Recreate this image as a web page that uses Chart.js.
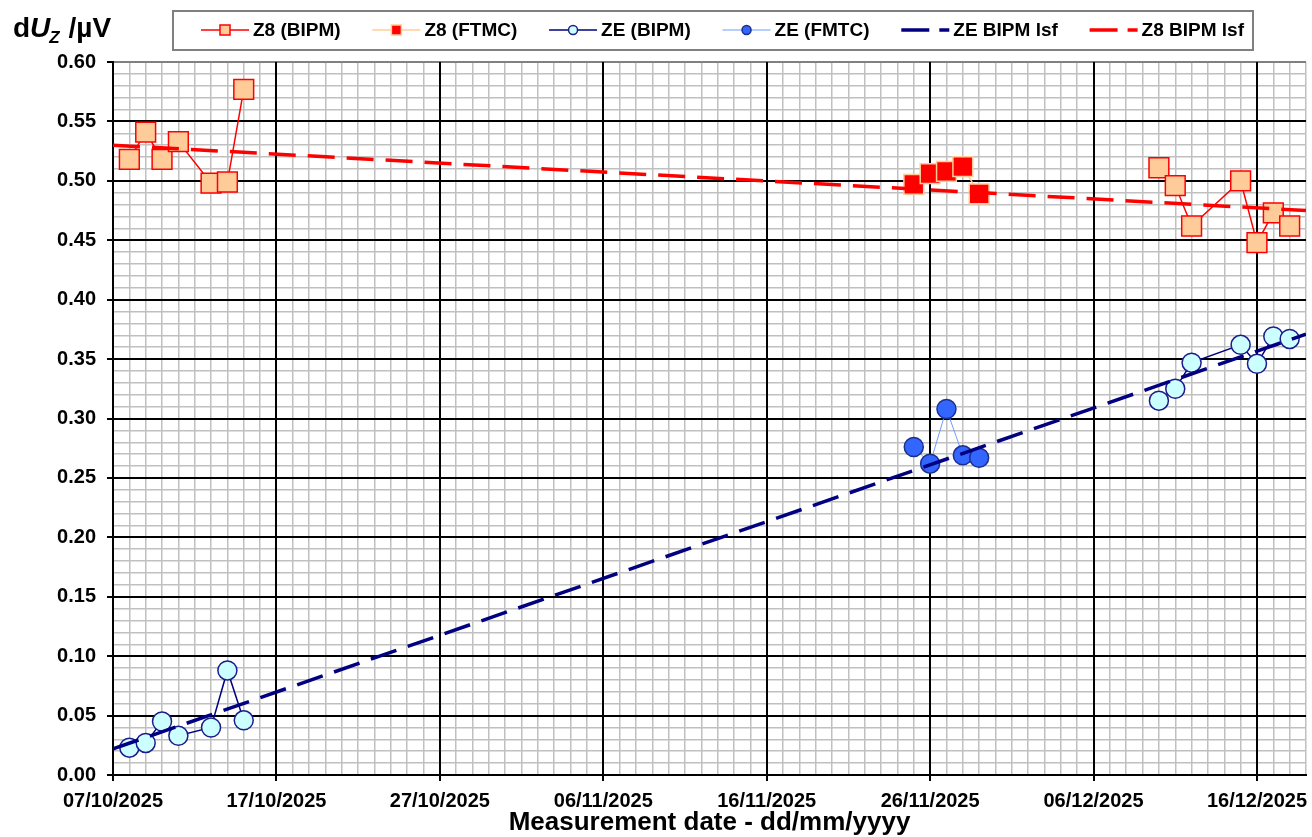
<!DOCTYPE html>
<html>
<head>
<meta charset="utf-8">
<title>dUz vs measurement date</title>
<script src="https://cdn.jsdelivr.net/npm/chart.js@4.4.1/dist/chart.umd.min.js"></script>
<style>
  html, body { margin: 0; padding: 0; background: #fff; }
  #wrap { width: 1312px; height: 837px; }
</style>
</head>
<body>
<div id="wrap"><canvas id="uz_graph" width="1312" height="837"></canvas></div>
<script>
// ------------------------------ data ------------------->>
const axisStart = '2025-10-07';
const axisEnd = '2025-12-19';

// BIPM measurements, same days for both standards
const bipmDates = ['2025-10-08', '2025-10-09', '2025-10-10', '2025-10-11', '2025-10-13', '2025-10-14', '2025-10-15',
                   '2025-12-10', '2025-12-11', '2025-12-12', '2025-12-15', '2025-12-16', '2025-12-17', '2025-12-18'];
const z8Bipm = [0.518, 0.541, 0.518, 0.533, 0.498, 0.499, 0.577,
                0.511, 0.496, 0.462, 0.500, 0.448, 0.473, 0.462];
const zeBipm = [0.023, 0.027, 0.045, 0.033, 0.040, 0.088, 0.046,
                0.315, 0.325, 0.347, 0.362, 0.346, 0.369, 0.367];

// FTMC measurements
const ftmcDates = ['2025-11-25', '2025-11-26', '2025-11-27', '2025-11-28', '2025-11-29'];
const z8Ftmc = [0.497, 0.506, 0.508, 0.512, 0.489];
const zeFtmc = [0.276, 0.262, 0.308, 0.269, 0.267];

// least squares fits on BIPM data
const lsfDates = ['2025-10-07', '2025-12-19'];
const zeLsf = [0.022, 0.371];
const z8Lsf = [0.530, 0.475];

const seriesNames = ['Z8 (BIPM)', 'Z8 (FTMC)', 'ZE (BIPM)', 'ZE (FMTC)', 'ZE BIPM lsf', 'Z8 BIPM lsf'];
const yTitle = ['d', 'U', 'Z', ' /\u00b5V'];
const xTitle = 'Measurement date - dd/mm/yyyy';

const majorDays = 10;     // labelled date gridlines
const maxGapDays = 20;    // no line across campaign breaks

const FONT = '"Liberation Sans", Arial, Helvetica, sans-serif';

// ------------------------------ helpers ------------------------------------>>
function toUTC(s) {
    const p = s.split('-');
    return Date.UTC(+p[0], +p[1] - 1, +p[2]);
}
function dayNum(s) {
    return Math.round((toUTC(s) - toUTC(axisStart)) / 86400000);
}
function dayLabel(n) {
    const d = new Date(toUTC(axisStart) + n * 86400000);
    const dd = String(d.getUTCDate()).padStart(2, '0');
    const mm = String(d.getUTCMonth() + 1).padStart(2, '0');
    return dd + '/' + mm + '/' + d.getUTCFullYear();
}
function pts(dates, vals) {
    return dates.map((d, i) => ({ x: dayNum(d), y: vals[i] }));
}
function gapped(color) {
    return {
        borderColor: c => (c.p1.parsed.x - c.p0.parsed.x > maxGapDays ? 'transparent' : color)
    };
}
function isMajorY(v) {
    return Math.round(v * 100) % 5 === 0;
}
function isMajorX(v) {
    return v % majorDays === 0;
}

// ------------------------------ plugins ------------------------------------>>
const whiteBack = {
    id: 'whiteBack',
    beforeDraw(chart) {
        const ctx = chart.ctx;
        ctx.save();
        ctx.fillStyle = '#fff';
        ctx.fillRect(0, 0, chart.width, chart.height);
        ctx.restore();
    }
};

// black major gridlines on top of the grey minor ones (like Excel does)
const majorGrid = {
    id: 'majorGrid',
    beforeDatasetsDraw(chart) {
        const ctx = chart.ctx;
        const a = chart.chartArea;
        const xs = chart.scales.x, ys = chart.scales.y;
        ctx.save();
        ctx.strokeStyle = '#000';
        ctx.lineWidth = 2;
        ctx.beginPath();
        xs.ticks.forEach(t => {
            if (isMajorX(t.value) && t.value > 0) {
                const px = Math.round(xs.getPixelForValue(t.value));
                ctx.moveTo(px, a.top);
                ctx.lineTo(px, a.bottom);
            }
        });
        ys.ticks.forEach(t => {
            if (isMajorY(t.value) && t.value > 0.001 && t.value < 0.595) {
                const py = Math.round(ys.getPixelForValue(t.value));
                ctx.moveTo(a.left, py);
                ctx.lineTo(a.right, py);
            }
        });
        ctx.stroke();
        ctx.restore();
    }
};

const excelBits = {
    id: 'excelBits',
    afterDraw(chart) {
        const ctx = chart.ctx;
        const area = chart.chartArea;
        ctx.save();

        // y axis title  dU_Z /uV
        ctx.fillStyle = '#000';
        ctx.textBaseline = 'alphabetic';
        let x = 13;
        ctx.font = 'bold 28px ' + FONT;
        ctx.fillText(yTitle[0], x, 37);
        x += ctx.measureText(yTitle[0]).width;
        ctx.font = 'italic bold 28px ' + FONT;
        ctx.fillText(yTitle[1], x, 37);
        x += ctx.measureText(yTitle[1]).width;
        ctx.font = 'italic bold 17px ' + FONT;
        ctx.fillText(yTitle[2], x - 1, 43);
        x += ctx.measureText(yTitle[2]).width;
        ctx.font = 'bold 28px ' + FONT;
        ctx.fillText(yTitle[3], x, 37);

        // x axis title
        ctx.font = 'bold 26px ' + FONT;
        ctx.textAlign = 'center';
        ctx.fillText(xTitle, (area.left + area.right) / 2, 830);
        ctx.textAlign = 'left';

        // legend box
        ctx.strokeStyle = '#808080';
        ctx.lineWidth = 2;
        ctx.strokeRect(173, 11, 1080, 39);

        const sets = chart.data.datasets;
        ctx.font = 'bold 19px ' + FONT;
        const widths = sets.map(ds => ctx.measureText(ds.label).width);
        const symW = 48, textGap = 4;
        const used = widths.reduce((s, w) => s + w, 0) + sets.length * (symW + textGap);
        const gap = (1244 - 201 - used) / (sets.length - 1);
        let lx = 201;
        const yc = 30;
        sets.forEach((ds, i) => {
            ctx.beginPath();
            ctx.setLineDash(ds.borderDash ? [28, 10] : []);
            ctx.strokeStyle = ds.lineColor;
            ctx.lineWidth = ds.borderWidth;
            ctx.moveTo(lx, yc);
            ctx.lineTo(lx + symW, yc);
            ctx.stroke();
            ctx.setLineDash([]);
            if (ds.pointRadius > 0) {
                ctx.fillStyle = ds.pointBackgroundColor;
                ctx.strokeStyle = ds.pointBorderColor;
                ctx.lineWidth = 1.5;
                const cx = lx + symW / 2;
                ctx.beginPath();
                if (ds.pointStyle === 'rect') {
                    ctx.rect(cx - 5, yc - 5, 10, 10);
                } else {
                    ctx.arc(cx, yc, 4.5, 0, Math.PI * 2);
                }
                ctx.fill();
                ctx.stroke();
            }
            ctx.fillStyle = '#000';
            ctx.textBaseline = 'middle';
            ctx.fillText(ds.label, lx + symW + textGap, yc + 1);
            lx += symW + textGap + widths[i] + gap;
        });
        ctx.restore();
    }
};

// ------------------------------ chart -------------------------------------->>
const ctx = document.getElementById('uz_graph').getContext('2d');
const uzChart = new Chart(ctx, {
    type: 'line',
    data: {
        datasets: [{
            label: seriesNames[0],
            data: pts(bipmDates, z8Bipm),
            lineColor: '#ff0000',
            borderColor: '#ff0000',
            borderWidth: 1.5,
            segment: gapped('#ff0000'),
            pointStyle: 'rect',
            pointRadius: 14,
            pointBackgroundColor: '#ffcc99',
            pointBorderColor: '#ff0000',
            pointBorderWidth: 1.5,
            order: 5
        }, {
            label: seriesNames[1],
            data: pts(ftmcDates, z8Ftmc),
            lineColor: '#ffcc99',
            borderColor: '#ffcc99',
            borderWidth: 1.5,
            pointStyle: 'rect',
            pointRadius: 14,
            pointBackgroundColor: '#ff0000',
            pointBorderColor: '#ffcc99',
            pointBorderWidth: 1.5,
            order: 4
        }, {
            label: seriesNames[2],
            data: pts(bipmDates, zeBipm),
            lineColor: '#000080',
            borderColor: '#000080',
            borderWidth: 1.5,
            segment: gapped('#000080'),
            pointStyle: 'circle',
            pointRadius: 9.5,
            pointBackgroundColor: '#ccffff',
            pointBorderColor: '#1c1c8c',
            pointBorderWidth: 1.5,
            order: 3
        }, {
            label: seriesNames[3],
            data: pts(ftmcDates, zeFtmc),
            lineColor: '#6f9cff',
            borderColor: '#6f9cff',
            borderWidth: 1,
            pointStyle: 'circle',
            pointRadius: 9.5,
            pointBackgroundColor: '#3366ff',
            pointBorderColor: '#1c2f8c',
            pointBorderWidth: 1.5,
            order: 2
        }, {
            label: seriesNames[4],
            data: pts(lsfDates, zeLsf),
            lineColor: '#000080',
            borderColor: '#000080',
            borderWidth: 3.5,
            borderDash: [27, 12],
            borderCapStyle: 'butt',
            pointRadius: 0,
            order: 1
        }, {
            label: seriesNames[5],
            data: pts(lsfDates, z8Lsf),
            lineColor: '#ff0000',
            borderColor: '#ff0000',
            borderWidth: 3.5,
            borderDash: [27, 12],
            borderCapStyle: 'butt',
            pointRadius: 0,
            order: 0
        }]
    },
    options: {
        responsive: false,
        animation: false,
        events: [],
        devicePixelRatio: 1,
        layout: { autoPadding: false, padding: { top: 62, right: 6, left: 0, bottom: 0 } },
        plugins: {
            legend: { display: false },
            tooltip: { enabled: false }
        },
        scales: {
            x: {
                type: 'linear',
                min: 0,
                max: dayNum(axisEnd),
                afterFit: s => { s.height = 62; s.paddingLeft = 0; s.paddingRight = 0; },
                afterBuildTicks: s => {
                    s.ticks = [];
                    for (let d = 0; d <= dayNum(axisEnd); d++) s.ticks.push({ value: d });
                },
                ticks: {
                    autoSkip: false,
                    maxRotation: 0,
                    padding: 8,
                    color: '#000',
                    font: { family: FONT, size: 20, weight: 'bold' },
                    callback: v => (isMajorX(v) ? dayLabel(v) : '')
                },
                grid: {
                    color: c => (c.tick && isMajorX(c.tick.value) ? '#000' : '#c0c0c0'),
                    lineWidth: c => (c.tick && isMajorX(c.tick.value) ? 2 : 1.5),
                    tickLength: 6,
                    tickColor: c => (c.tick && isMajorX(c.tick.value) ? '#000' : 'rgba(0,0,0,0)'),
                    tickWidth: 2
                },
                border: { color: '#000', width: 2 }
            },
            y: {
                min: 0,
                max: 0.6,
                afterFit: s => { s.width = 113; },
                ticks: {
                    stepSize: 0.01,
                    autoSkip: false,
                    padding: 11,
                    color: '#000',
                    font: { family: FONT, size: 20, weight: 'bold' },
                    callback: v => (isMajorY(v) ? v.toFixed(2) : '')
                },
                grid: {
                    color: c => {
                        if (!c.tick) return '#c0c0c0';
                        if (c.tick.value > 0.595) return '#808080';
                        return isMajorY(c.tick.value) ? '#000' : '#c0c0c0';
                    },
                    lineWidth: c => (c.tick && isMajorY(c.tick.value) ? 2 : 1.5),
                    tickLength: 6,
                    tickColor: c => (c.tick && isMajorY(c.tick.value) ? '#000' : 'rgba(0,0,0,0)'),
                    tickWidth: 2
                },
                border: { color: '#000', width: 2 }
            }
        }
    },
    plugins: [whiteBack, majorGrid, excelBits]
});
</script>
</body>
</html>
